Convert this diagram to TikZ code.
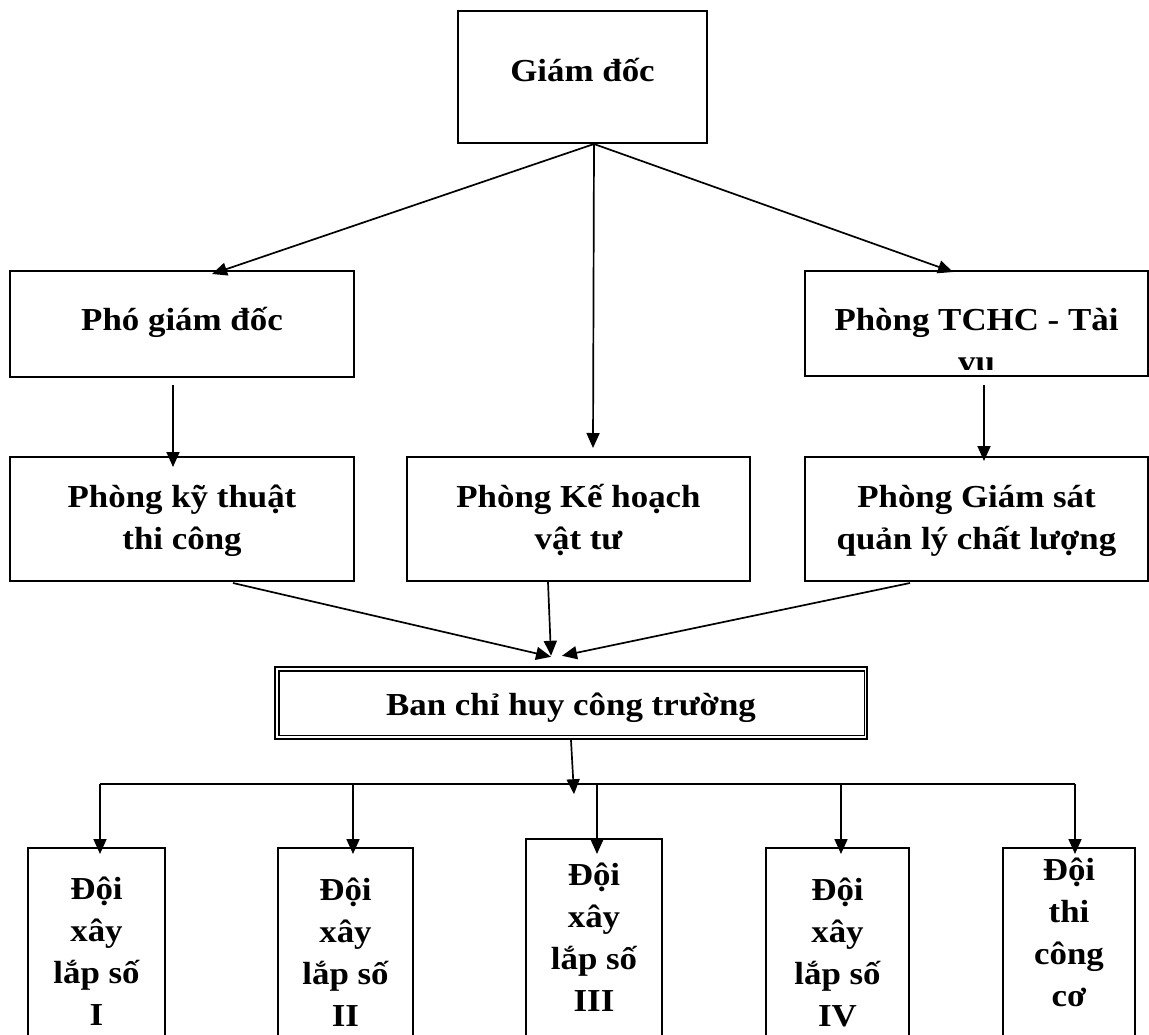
\documentclass[tikz,border=0pt]{standalone}
\usepackage{fontspec}
\setmainfont{Liberation Serif}[FakeStretch=1.09]
\usetikzlibrary{arrows.meta,calc}
\newcommand\myst{\rule{0pt}{28pt}}
\begin{document}
\begin{tikzpicture}[x=1pt,y=-1pt,
  box/.style={draw=black, line width=2pt, inner sep=0pt},
  txt/.style={font=\bfseries\fontsize{32}{42}\selectfont, align=center, inner sep=0pt, anchor=north},
  btxt/.style={font=\bfseries\fontsize{32}{42}\selectfont, align=center, inner sep=0pt, anchor=north},
  arr/.style={line width=1.7pt, -{Triangle[length=15pt,width=13pt]}},
  ln/.style={line width=1.7pt}]
\useasboundingbox[fill=white] (0,0) rectangle (1149,1034);

% boxes
\node[box, minimum width=249pt, minimum height=132pt] (gd) at (582.5,77) {};
\node[box, minimum width=344pt, minimum height=106pt] (pho) at (182,324) {};
\node[box, minimum width=343pt, minimum height=105pt] (tchc) at (976.5,323.5) {};
\node[box, minimum width=344pt, minimum height=124pt] (kt) at (182,519) {};
\node[box, minimum width=343pt, minimum height=124pt] (kh) at (578.5,519) {};
\node[box, minimum width=343pt, minimum height=124pt] (gs) at (976.5,519) {};
\node[box, line width=2.4pt, minimum width=592pt, minimum height=72pt] (ban) at (571,703) {};
\draw[line width=1.4pt] ($(ban.north west)+(5,5)$) rectangle ($(ban.south east)+(-4,-5)$);
\node[box, minimum width=137pt, minimum height=212pt] (b1) at (96.5,954) {};
\node[box, minimum width=135pt, minimum height=212pt] (b2) at (345.5,954) {};
\node[box, minimum width=136pt, minimum height=221pt] (b3) at (594,949.5) {};
\node[box, minimum width=143pt, minimum height=212pt] (b4) at (837.5,954) {};
\node[box, minimum width=132pt, minimum height=212pt] (b5) at (1069,954) {};

% texts
\node[txt] (gdt) at (582.5,53) {\myst Giám đốc};
\node[txt] (phot) at (182,302) {\myst Phó giám đốc};
\begin{scope}
\clip ($(tchc.north west)+(2,2)$) rectangle ($(tchc.south east)+(-2,-8)$);
\node[txt] (tchct) at (976.5,302) {\myst Phòng TCHC - Tài\\vụ};
\end{scope}
\node[txt] (ktt) at (182,479) {\myst Phòng kỹ thuật\\thi công};
\node[txt] (kht) at (578.5,479) {\myst Phòng Kế hoạch\\vật tư};
\node[txt] (gst) at (976.5,479) {\myst Phòng Giám sát\\quản lý chất lượng};
\node[txt] (bant) at (571,687) {\myst Ban chỉ huy công trường};
\node[btxt] (b1t) at (96.5,871) {\myst Đội\\xây\\lắp số\\I};
\node[btxt] (b2t) at (345.5,872) {\myst Đội\\xây\\lắp số\\II};
\node[btxt] (b3t) at (594,857) {\myst Đội\\xây\\lắp số\\III};
\node[btxt] (b4t) at (837.5,872) {\myst Đội\\xây\\lắp số\\IV};
\node[btxt] (b5t) at (1069,852) {\myst Đội\\thi\\công\\cơ};

% connectors
\coordinate (gdo) at ($(gd.south)+(11.5,0)$);
\draw[arr] (gdo) -- ($(pho.north)+(30,4)$);
\draw[arr] (gdo) -- ($(tchc.north)+(-23.5,2)$);
\draw[arr] (gdo) -- ($(kh.north)+(14.5,-8)$);
\draw[arr] ($(pho.south)+(-9,7)$) -- ($(kt.north)+(-9,11)$);
\draw[arr] ($(tchc.south)+(7.5,8)$) -- ($(gs.north)+(7.5,5)$);
\draw[arr] ($(kt.south)+(51,1)$) -- ($(ban.north)+(-20,-9)$);
\draw[arr] ($(kh.south)+(-30.5,0)$) -- ($(ban.north)+(-20,-10)$);
\draw[arr] ($(gs.south)+(-66.5,1)$) -- ($(ban.north)+(-9,-10)$);
\coordinate (busend) at ($(ban.south)+(3,54)$);
\draw[arr] (ban.south) -- (busend);
\coordinate (busL) at ($(b1.north)+(3.5,-63)$);
\coordinate (busR) at ($(b5.north)+(6,-63)$);
\draw[ln] (busL) -- (busR);
\draw[arr] (busL) -- ($(b1.north)+(3.5,7)$);
\draw[arr] ($(b2.north)+(7.5,-63)$) -- ($(b2.north)+(7.5,7)$);
\draw[arr] ($(b3.north)+(3,-54)$) -- ($(b3.north)+(3,16)$);
\draw[arr] ($(b4.north)+(3.5,-63)$) -- ($(b4.north)+(3.5,7)$);
\draw[arr] (busR) -- ($(b5.north)+(6,7)$);
\end{tikzpicture}
\end{document}
